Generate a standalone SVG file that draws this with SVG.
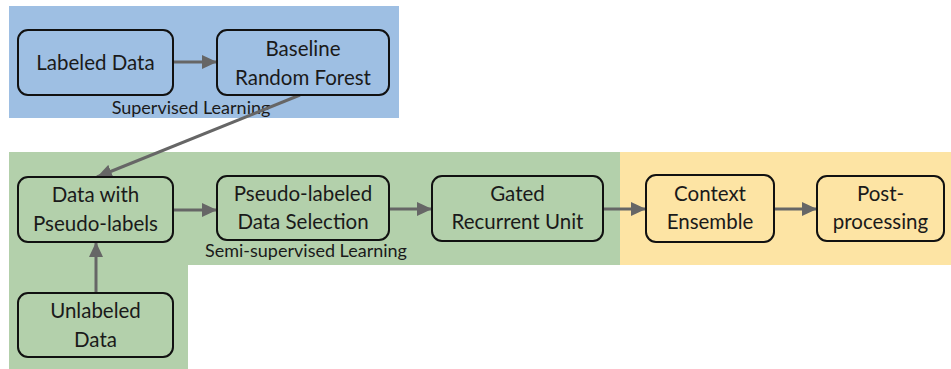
<svg xmlns="http://www.w3.org/2000/svg" width="951" height="369" viewBox="0 0 951 369">
<style>
.box{stroke:#111;stroke-width:2;}
.t{font-family:Lato,"Open Sans","DejaVu Sans",sans-serif;font-size:20.5px;fill:#1a1a1a;text-anchor:middle;}
.lbl{font-family:Lato,"Open Sans","DejaVu Sans",sans-serif;font-size:18px;fill:#1a1a1a;text-anchor:middle;}
.c{stroke:#666;stroke-width:3;fill:none;marker-end:url(#ah);}
</style>
<defs>
<marker id="ah" markerUnits="userSpaceOnUse" markerWidth="16" markerHeight="14" refX="15" refY="7" orient="auto">
<path d="M0,0 L15,7 L0,14 z" fill="#666"/>
</marker>
</defs>
<g id="regions">
<rect x="9" y="6" width="390" height="112" fill="#9ebfe3"/>
<path d="M9,152 H620 V265 H188 V369 H9 Z" fill="#b3d0ab"/>
<rect x="620" y="152" width="331" height="113" fill="#fde4a4"/>
<text class="lbl" x="191" y="114">Supervised Learning</text>
<text class="lbl" x="306" y="257">Semi-supervised Learning</text>
</g>
<g id="connectors">
<line class="c" x1="173" y1="62" x2="217" y2="62"/>
<line class="c" x1="300" y1="95" x2="97" y2="177"/>
<line class="c" x1="96" y1="293" x2="96" y2="242"/>
<line class="c" x1="173" y1="210" x2="217" y2="210"/>
<line class="c" x1="389" y1="209" x2="432" y2="209"/>
<line class="c" x1="603" y1="209" x2="646" y2="209"/>
<line class="c" x1="774" y1="209" x2="817" y2="209"/>
</g>
<g id="labeled-data">
<rect class="box" x="18" y="30" width="155" height="65" rx="10" fill="#9ebfe3"/>
<text class="t" x="95.5" y="70">Labeled Data</text>
</g>
<g id="baseline-rf">
<rect class="box" x="217" y="30" width="172" height="65" rx="10" fill="#9ebfe3"/>
<text class="t" x="303" y="56">Baseline</text>
<text class="t" x="303" y="85">Random Forest</text>
</g>
<g id="data-with-pseudo">
<rect class="box" x="18" y="177" width="155" height="65" rx="10" fill="#b3d0ab"/>
<text class="t" x="95.5" y="202">Data with</text>
<text class="t" x="95.5" y="231">Pseudo-labels</text>
</g>
<g id="unlabeled-data">
<rect class="box" x="18" y="293" width="155" height="64" rx="10" fill="#b3d0ab"/>
<text class="t" x="95.5" y="318">Unlabeled</text>
<text class="t" x="95.5" y="347">Data</text>
</g>
<g id="pseudo-selection">
<rect class="box" x="217" y="176" width="172" height="64" rx="10" fill="#b3d0ab"/>
<text class="t" x="303" y="201">Pseudo-labeled</text>
<text class="t" x="303" y="229">Data Selection</text>
</g>
<g id="gru">
<rect class="box" x="432" y="176" width="171" height="65" rx="10" fill="#b3d0ab"/>
<text class="t" x="517.5" y="201">Gated</text>
<text class="t" x="517.5" y="229">Recurrent Unit</text>
</g>
<g id="context-ensemble">
<rect class="box" x="646" y="175" width="128" height="67" rx="10" fill="#fde4a4"/>
<text class="t" x="710" y="201">Context</text>
<text class="t" x="710" y="229">Ensemble</text>
</g>
<g id="post-processing">
<rect class="box" x="817" y="176" width="127" height="65" rx="10" fill="#fde4a4"/>
<text class="t" x="880.5" y="201">Post-</text>
<text class="t" x="880.5" y="229">processing</text>
</g>
</svg>
